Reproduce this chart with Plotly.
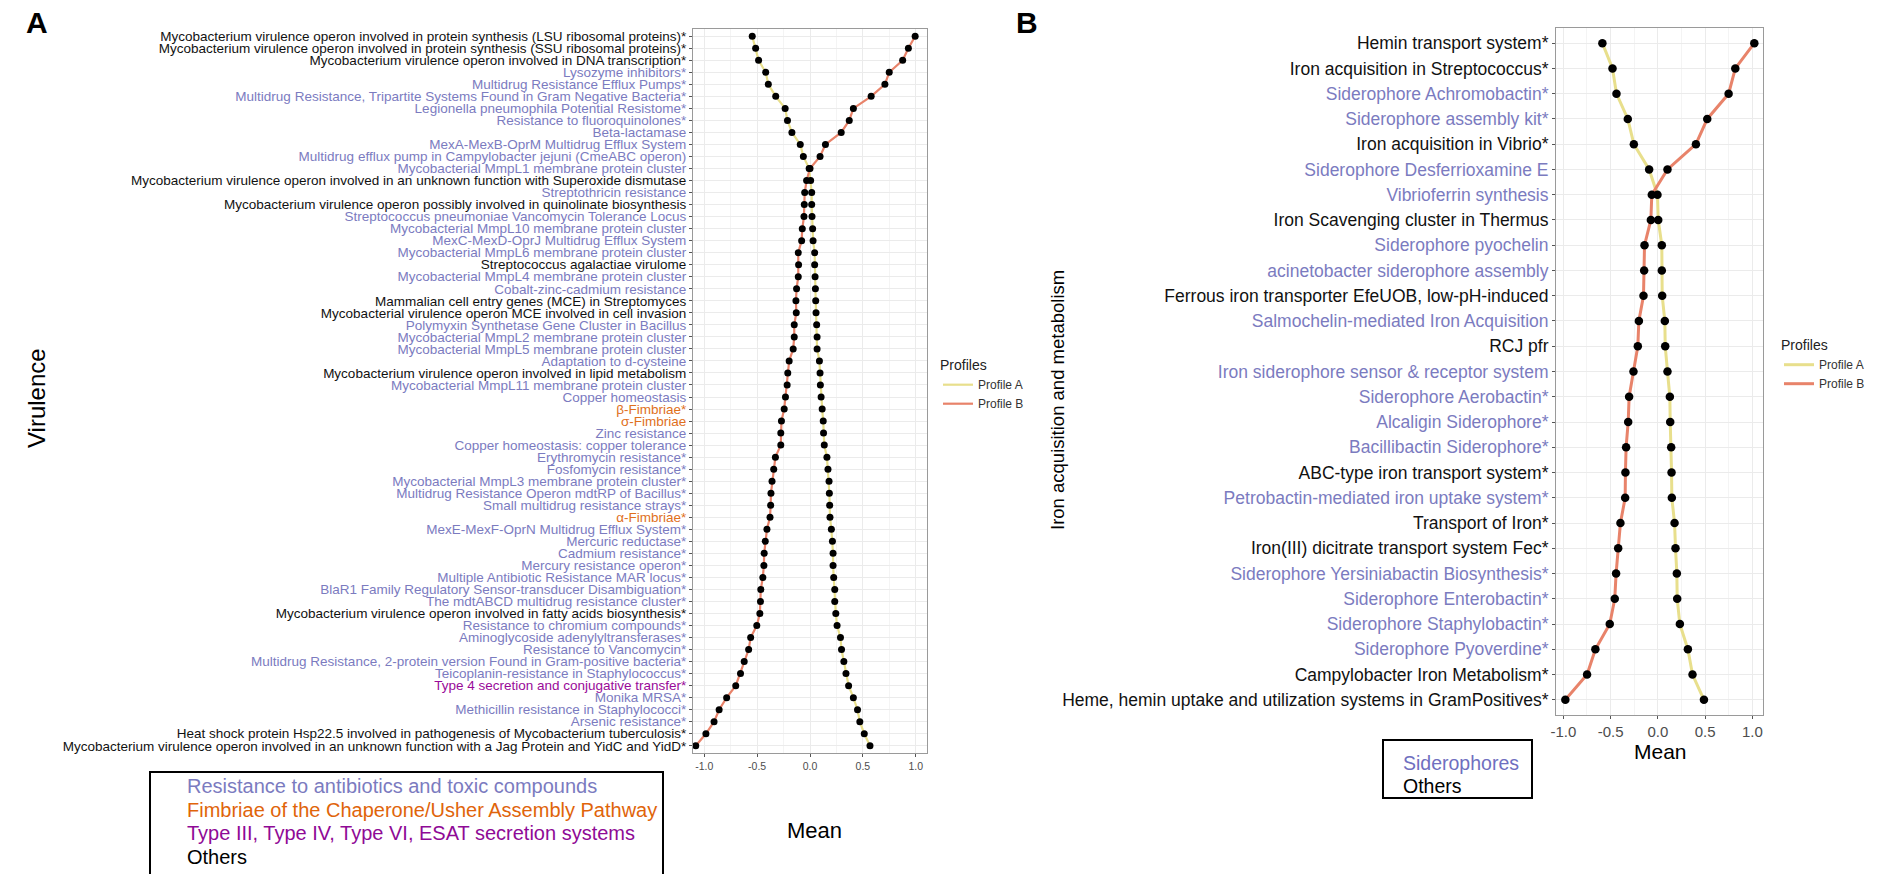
import plotly.graph_objects as go

W, H = 1891, 874

# ---------------- Panel A data (Virulence) ----------------
vir_labels = [
    "Mycobacterium virulence operon involved in protein synthesis (LSU ribosomal proteins)*",
    "Mycobacterium virulence operon involved in protein synthesis (SSU ribosomal proteins)*",
    "Mycobacterium virulence operon involved in DNA transcription*",
    "Lysozyme inhibitors*",
    "Multidrug Resistance Efflux Pumps*",
    "Multidrug Resistance, Tripartite Systems Found in Gram Negative Bacteria*",
    "Legionella pneumophila Potential Resistome*",
    "Resistance to fluoroquinolones*",
    "Beta-lactamase",
    "MexA-MexB-OprM Multidrug Efflux System",
    "Multidrug efflux pump in Campylobacter jejuni (CmeABC operon)",
    "Mycobacterial MmpL1 membrane protein cluster",
    "Mycobacterium virulence operon involved in an unknown function with Superoxide dismutase",
    "Streptothricin resistance",
    "Mycobacterium virulence operon possibly involved in quinolinate biosynthesis",
    "Streptococcus pneumoniae Vancomycin Tolerance Locus",
    "Mycobacterial MmpL10 membrane protein cluster",
    "MexC-MexD-OprJ Multidrug Efflux System",
    "Mycobacterial MmpL6 membrane protein cluster",
    "Streptococcus agalactiae virulome",
    "Mycobacterial MmpL4 membrane protein cluster",
    "Cobalt-zinc-cadmium resistance",
    "Mammalian cell entry genes (MCE) in Streptomyces",
    "Mycobacterial virulence operon MCE involved in cell invasion",
    "Polymyxin Synthetase Gene Cluster in Bacillus",
    "Mycobacterial MmpL2 membrane protein cluster",
    "Mycobacterial MmpL5 membrane protein cluster",
    "Adaptation to d-cysteine",
    "Mycobacterium virulence operon involved in lipid metabolism",
    "Mycobacterial MmpL11 membrane protein cluster",
    "Copper homeostasis",
    "β-Fimbriae*",
    "σ-Fimbriae",
    "Zinc resistance",
    "Copper homeostasis: copper tolerance",
    "Erythromycin resistance*",
    "Fosfomycin resistance*",
    "Mycobacterial MmpL3 membrane protein cluster*",
    "Multidrug Resistance Operon mdtRP of Bacillus*",
    "Small multidrug resistance strays*",
    "α-Fimbriae*",
    "MexE-MexF-OprN Multidrug Efflux System*",
    "Mercuric reductase*",
    "Cadmium resistance*",
    "Mercury resistance operon*",
    "Multiple Antibiotic Resistance MAR locus*",
    "BlaR1 Family Regulatory Sensor-transducer Disambiguation*",
    "The mdtABCD multidrug resistance cluster*",
    "Mycobacterium virulence operon involved in fatty acids biosynthesis*",
    "Resistance to chromium compounds*",
    "Aminoglycoside adenylyltransferases*",
    "Resistance to Vancomycin*",
    "Multidrug Resistance, 2-protein version Found in Gram-positive bacteria*",
    "Teicoplanin-resistance in Staphylococcus*",
    "Type 4 secretion and conjugative transfer*",
    "Monika MRSA*",
    "Methicillin resistance in Staphylococci*",
    "Arsenic resistance*",
    "Heat shock protein Hsp22.5 involved in pathogenesis of Mycobacterium tuberculosis*",
    "Mycobacterium virulence operon involved in an unknown function with a Jag Protein and YidC and YidD*",
]
vir_groups = (
    ["oth"] * 3 + ["res"] * 9 + ["oth", "res", "oth"] + ["res"] * 4 + ["oth", "res", "res", "oth", "oth"]
    + ["res"] * 4 + ["oth", "res", "res", "fim", "fim"] + ["res"] * 7 + ["fim"] + ["res"] * 7
    + ["oth"] + ["res"] * 5 + ["sec"] + ["res"] * 3 + ["oth", "oth"]
)
vir_profile_a = [
    -0.546, -0.514, -0.486, -0.419, -0.394, -0.324, -0.235, -0.213, -0.171, -0.092, -0.063, -0.008,
    0.006, 0.016, 0.016, 0.019, 0.025, 0.029, 0.044, 0.044, 0.048, 0.051, 0.054, 0.057, 0.063, 0.067,
    0.067, 0.089, 0.095, 0.098, 0.105, 0.115, 0.125, 0.128, 0.135, 0.160, 0.170, 0.180, 0.183, 0.186,
    0.189, 0.202, 0.212, 0.218, 0.218, 0.224, 0.234, 0.234, 0.244, 0.256, 0.288, 0.298, 0.320, 0.340,
    0.365, 0.410, 0.449, 0.471, 0.513, 0.567,
]
vir_profile_b = [
    0.994, 0.930, 0.876, 0.749, 0.708, 0.578, 0.410, 0.371, 0.295, 0.146, 0.095, 0.000,
    -0.032, -0.050, -0.054, -0.057, -0.073, -0.079, -0.111, -0.108, -0.111, -0.127, -0.133, -0.130,
    -0.149, -0.149, -0.159, -0.197, -0.210, -0.216, -0.232, -0.244, -0.270, -0.276, -0.276, -0.327,
    -0.343, -0.359, -0.369, -0.372, -0.378, -0.407, -0.423, -0.433, -0.436, -0.446, -0.465, -0.468,
    -0.474, -0.503, -0.561, -0.580, -0.622, -0.657, -0.702, -0.788, -0.859, -0.907, -0.984, -1.080,
]

# ---------------- Panel B data (Iron acquisition and metabolism) ----------------
iron_labels = [
    "Hemin transport system*",
    "Iron acquisition in Streptococcus*",
    "Siderophore Achromobactin*",
    "Siderophore assembly kit*",
    "Iron acquisition in Vibrio*",
    "Siderophore Desferrioxamine E",
    "Vibrioferrin synthesis",
    "Iron Scavenging cluster in Thermus",
    "Siderophore pyochelin",
    "acinetobacter siderophore assembly",
    "Ferrous iron transporter EfeUOB, low-pH-induced",
    "Salmochelin-mediated Iron Acquisition",
    "RCJ pfr",
    "Iron siderophore sensor & receptor system",
    "Siderophore Aerobactin*",
    "Alcaligin Siderophore*",
    "Bacillibactin Siderophore*",
    "ABC-type iron transport system*",
    "Petrobactin-mediated iron uptake system*",
    "Transport of Iron*",
    "Iron(III) dicitrate transport system Fec*",
    "Siderophore Yersiniabactin Biosynthesis*",
    "Siderophore Enterobactin*",
    "Siderophore Staphylobactin*",
    "Siderophore Pyoverdine*",
    "Campylobacter Iron Metabolism*",
    "Heme, hemin uptake and utilization systems in GramPositives*",
]
iron_groups = [
    "oth", "oth", "sid", "sid", "oth", "sid", "sid", "oth", "sid", "sid", "oth", "sid", "oth", "sid",
    "sid", "sid", "sid", "oth", "sid", "oth", "oth", "sid", "sid", "sid", "sid", "oth", "oth",
]
iron_profile_a = [
    -0.587, -0.480, -0.438, -0.318, -0.254, -0.092, -0.004, 0.004, 0.042, 0.042, 0.046, 0.074, 0.078,
    0.102, 0.127, 0.131, 0.141, 0.145, 0.148, 0.177, 0.187, 0.201, 0.205, 0.233, 0.318, 0.367, 0.488,
]
iron_profile_b = [
    1.021, 0.820, 0.749, 0.523, 0.403, 0.102, -0.064, -0.074, -0.141, -0.145, -0.152, -0.201, -0.212,
    -0.258, -0.304, -0.314, -0.336, -0.343, -0.346, -0.396, -0.420, -0.442, -0.456, -0.509, -0.661,
    -0.749, -0.979,
]

x_tick_vals = [-1.0, -0.5, 0.0, 0.5, 1.0]
x_tick_text = ["-1.0", "-0.5", "0.0", "0.5", "1.0"]

vir_legend_items = [
    ("res", "Resistance to antibiotics and toxic compounds"),
    ("fim", "Fimbriae of the Chaperone/Usher Assembly Pathway"),
    ("sec", "Type III, Type IV, Type VI, ESAT secretion systems"),
    ("oth", "Others"),
]
iron_legend_items = [("sid", "Siderophores"), ("oth", "Others")]

# ---------------- styles ----------------
FONT = "Liberation Sans, Arial, Helvetica, sans-serif"
GROUP_COLORS = {"res": "#7b7bbf", "sid": "#7b7bbf", "fim": "#e0701c", "sec": "#990a99", "oth": "#111111"}
LEGEND_BOX_COLORS = {"res": "#7b7bbf", "sid": "#6f6fc0", "fim": "#e0640a", "sec": "#8f0a96", "oth": "#000000"}
COL_A = "#e8df8c"
COL_B = "#e8836a"


def px_x(p):
    return p / W


def px_y(p):
    return 1 - p / H


def colored(labels, groups):
    return [f'<span style="color:{GROUP_COLORS[g]}">{t}</span>' for t, g in zip(labels, groups)]


fig = go.Figure()

panels = [
    dict(xa="x", ya="y", labels=vir_labels, a=vir_profile_a, b=vir_profile_b, legend="legend",
         lw=2.2, ms=7),
    dict(xa="x2", ya="y2", labels=iron_labels, a=iron_profile_a, b=iron_profile_b, legend="legend2",
         lw=3.0, ms=8.5),
]

for p in panels:
    fig.add_trace(go.Scatter(x=p["a"], y=p["labels"], mode="lines", name="Profile A",
                             line=dict(color=COL_A, width=p["lw"]), xaxis=p["xa"], yaxis=p["ya"],
                             legend=p["legend"]))
    fig.add_trace(go.Scatter(x=p["b"], y=p["labels"], mode="lines", name="Profile B",
                             line=dict(color=COL_B, width=p["lw"]), xaxis=p["xa"], yaxis=p["ya"],
                             legend=p["legend"]))
    for vals in (p["a"], p["b"]):
        fig.add_trace(go.Scatter(x=vals, y=p["labels"], mode="markers", showlegend=False,
                                 marker=dict(color="black", size=p["ms"]),
                                 xaxis=p["xa"], yaxis=p["ya"], hoverinfo="x+y"))

grid = "#ebebeb"
border = "#9a9a9a"


def xaxis_cfg(domain, rng, anchor, fsize):
    return dict(domain=domain, range=rng, anchor=anchor, tickvals=x_tick_vals, ticktext=x_tick_text,
                showgrid=True, gridcolor=grid, gridwidth=1, zeroline=False,
                minor=dict(dtick=0.25, tick0=0, showgrid=True, gridcolor="#f4f4f4", gridwidth=0.7),
                showline=True, mirror=True, linecolor=border, linewidth=1,
                ticks="outside", ticklen=3, tickcolor="#555555",
                tickfont=dict(size=fsize, color="#4d4d4d", family=FONT), automargin=False)


def yaxis_cfg(domain, labels, groups, anchor, fsize):
    n = len(labels)
    return dict(domain=domain, type="category", categoryorder="array", categoryarray=labels,
                range=[n - 1 + 0.6, -0.6], anchor=anchor,
                tickvals=labels, ticktext=colored(labels, groups),
                showgrid=True, gridcolor=grid, gridwidth=1, zeroline=False,
                showline=True, mirror=True, linecolor=border, linewidth=1,
                ticks="outside", ticklen=3, tickcolor="#555555",
                tickfont=dict(size=fsize, family=FONT), automargin=False)


fig.update_layout(
    width=W, height=H, margin=dict(l=0, r=0, t=0, b=0),
    paper_bgcolor="white", plot_bgcolor="white",
    font=dict(family=FONT, color="#000000"),
    xaxis=xaxis_cfg([px_x(693), px_x(927)], [-1.106, 1.106], "y", 10.5),
    yaxis=yaxis_cfg([px_y(753), px_y(29)], vir_labels, vir_groups, "x", 13.5),
    xaxis2=xaxis_cfg([px_x(1556), px_x(1763)], [-1.078, 1.113], "y2", 15),
    yaxis2=yaxis_cfg([px_y(715), px_y(28)], iron_labels, iron_groups, "x2", 17.5),
    legend=dict(x=px_x(938), y=px_y(352), xanchor="left", yanchor="top",
                title=dict(text="Profiles", font=dict(size=14, color="#222222")),
                font=dict(size=12, color="#333333"), bgcolor="rgba(0,0,0,0)", tracegroupgap=0),
    legend2=dict(x=px_x(1779), y=px_y(332), xanchor="left", yanchor="top",
                 title=dict(text="Profiles", font=dict(size=14, color="#222222")),
                 font=dict(size=12, color="#333333"), bgcolor="rgba(0,0,0,0)", tracegroupgap=0),
    showlegend=True,
)


def note(text, xp, yp, size, color="black", xanchor="center", angle=0):
    return dict(text=text, x=px_x(xp), y=px_y(yp), xref="paper", yref="paper", showarrow=False,
                xanchor=xanchor, yanchor="middle", textangle=angle,
                font=dict(size=size, family=FONT, color=color))


ann = [
    note("<b>A</b>", 37, 22, 30),
    note("<b>B</b>", 1027, 22, 30),
    note("Virulence", 36, 398, 24, angle=-90),
    note("Iron acquisition and metabolism", 1057, 400, 18.5, angle=-90),
    note("Mean", 814, 830, 22),
    note("Mean", 1660, 751, 21),
]
for i, (g, t) in enumerate(vir_legend_items):
    ann.append(note(t, 185, 786 + i * 23.5, 20, LEGEND_BOX_COLORS[g], xanchor="left"))
for i, (g, t) in enumerate(iron_legend_items):
    ann.append(note(t, 1401, 763 + i * 23, 19.5, LEGEND_BOX_COLORS[g], xanchor="left"))

fig.update_layout(annotations=ann)

fig.add_shape(type="rect", xref="paper", yref="paper", x0=px_x(150), x1=px_x(663),
              y0=px_y(884), y1=px_y(772), line=dict(color="black", width=2), fillcolor="rgba(0,0,0,0)")
fig.add_shape(type="rect", xref="paper", yref="paper", x0=px_x(1383), x1=px_x(1532),
              y0=px_y(798), y1=px_y(740), line=dict(color="black", width=2), fillcolor="rgba(0,0,0,0)")

fig.write_html("out.html")
